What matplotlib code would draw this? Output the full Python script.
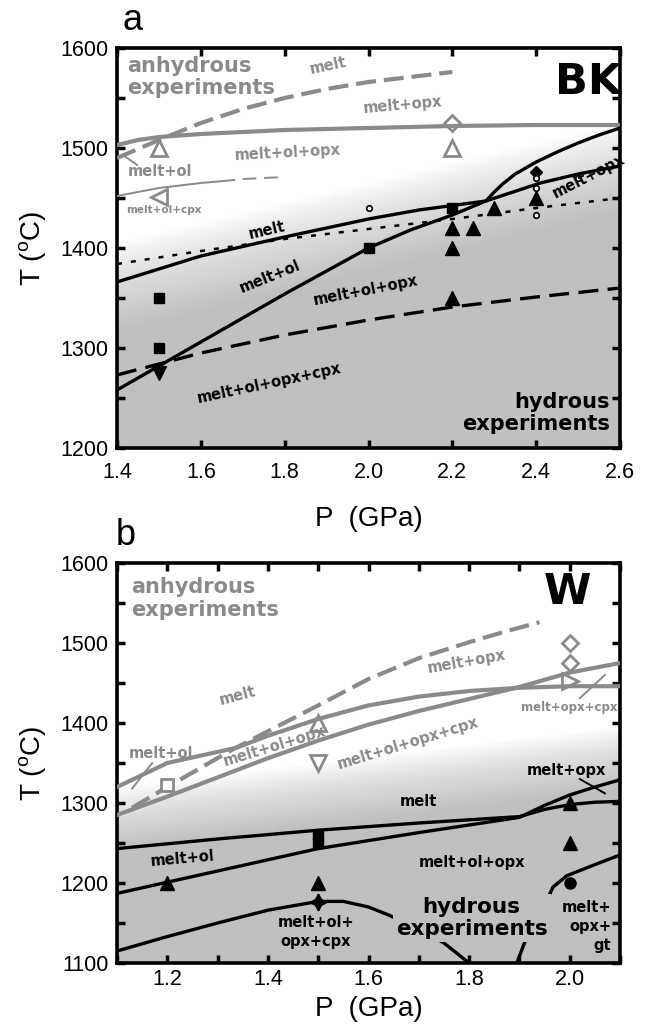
import numpy as np
import matplotlib.pyplot as plt
from matplotlib.ticker import MultipleLocator

plt.rcParams['font.family'] = ['Liberation Sans', 'DejaVu Sans']
plt.rcParams['mathtext.fontset'] = 'custom'
plt.rcParams['mathtext.rm'] = 'Liberation Sans'

GRAY = '#8a8a8a'
BOLD = ['DejaVu Sans']

# ---------------- panel a (BK) ----------------
# anhydrous (gray)
a_melt_anh_P = [1.40, 1.50, 1.60, 1.70, 1.80, 1.90, 2.00, 2.10, 2.20]
a_melt_anh_T = [1490, 1508, 1525, 1539, 1550, 1559, 1566, 1571, 1576]
a_opx_anh_P = [1.40, 1.45, 1.50, 1.60, 1.80, 2.00, 2.20, 2.40, 2.60]
a_opx_anh_T = [1503, 1508, 1511, 1514, 1518, 1520, 1522, 1523, 1523]
a_cpx_anh_P = [1.40, 1.50, 1.60, 1.68]
a_cpx_anh_T = [1452, 1460, 1465, 1468]
a_cpx_anh_dash_P = [1.70, 1.80]
a_cpx_anh_dash_T = [1469, 1471]
a_lead_P = [1.414, 1.448]
a_lead_T = [1493, 1483]
# hydrous (black)
a_liq_P = [1.40, 1.60, 1.80, 2.00, 2.12, 2.28, 2.41, 2.50, 2.60]
a_liq_T = [1366, 1392, 1411, 1429, 1438, 1447, 1465, 1474, 1482]
a_ol_P = [1.40, 1.60, 1.80, 2.00, 2.10, 2.20, 2.28, 2.30, 2.32, 2.35, 2.40, 2.45, 2.50, 2.55, 2.60]
a_ol_T = [1258, 1306, 1354, 1400, 1418, 1433, 1447, 1456, 1464, 1474, 1486, 1496, 1505, 1513, 1520]
a_dot_P = [1.4, 1.6, 1.8, 2.0, 2.2, 2.4, 2.6]
a_dot_T = [1384, 1397, 1409, 1419, 1429, 1440, 1450]
a_dash_P = [1.4, 1.6, 1.8, 2.0, 2.2, 2.4, 2.6]
a_dash_T = [1273, 1295, 1313, 1328, 1341, 1351, 1360]
# experiments
a_sq_P = [1.5, 1.5, 2.0, 2.2]
a_sq_T = [1350, 1300, 1400, 1440]
a_tri_P = [2.2, 2.2, 2.25, 2.3, 2.4, 2.2]
a_tri_T = [1420, 1400, 1420, 1440, 1450, 1350]
a_tdown_P = [1.5]
a_tdown_T = [1275]
a_dia_P = [2.4]
a_dia_T = [1476]
a_circ_P = [2.0, 2.4, 2.4, 2.4, 2.5]
a_circ_T = [1440, 1470, 1460, 1433, 1470]
a_otri_P = [1.5, 2.2]
a_otri_T = [1500, 1500]
a_odia_P = [2.2]
a_odia_T = [1525]
a_oleft_P = [1.5]
a_oleft_T = [1451]

# ---------------- panel b (W) ----------------
b_melt_anh_P = [1.13, 1.20, 1.33, 1.50, 1.60, 1.70, 1.80, 1.87, 1.94]
b_melt_anh_T = [1294, 1320, 1367, 1422, 1455, 1481, 1501, 1514, 1526]
b_up_anh_P = [1.10, 1.20, 1.337, 1.40, 1.50, 1.60, 1.70, 1.80, 1.90, 2.00, 2.10]
b_up_anh_T = [1320, 1350, 1369, 1384, 1405, 1422, 1433, 1440, 1444, 1446, 1446]
b_lo_anh_P = [1.10, 1.20, 1.30, 1.40, 1.50, 1.60, 1.70, 1.80, 1.90, 2.00, 2.10]
b_lo_anh_T = [1285, 1308, 1332, 1356, 1378, 1398, 1415, 1430, 1445, 1463, 1475]
b_lead1_P = [1.13, 1.17]
b_lead1_T = [1318, 1350]
b_lead2_P = [2.02, 2.07]
b_lead2_T = [1431, 1460]
b_liq_P = [1.10, 1.30, 1.50, 1.70, 1.90, 1.95, 2.00, 2.05, 2.10]
b_liq_T = [1243, 1255, 1266, 1275, 1283, 1292, 1298, 1301, 1302]
b_ol_P = [1.10, 1.30, 1.50, 1.70, 1.90, 1.95, 2.00, 2.05, 2.10]
b_ol_T = [1187, 1215, 1243, 1263, 1282, 1297, 1310, 1320, 1329]
b_cpx_P = [1.10, 1.20, 1.30, 1.40, 1.50, 1.55, 1.60, 1.64, 1.70, 1.75, 1.80]
b_cpx_T = [1115, 1133, 1150, 1166, 1177, 1177, 1170, 1160, 1143, 1125, 1100]
b_gt_P = [1.895, 1.91, 1.937, 1.967, 1.994, 2.046, 2.10]
b_gt_T = [1100, 1125, 1156, 1195, 1209, 1222, 1235]
b_lead3_P = [2.02, 2.07]
b_lead3_T = [1330, 1312]
# experiments
b_sq_P = [1.5, 1.5]
b_sq_T = [1250, 1260]
b_tri_P = [1.2, 1.5, 2.0, 2.0]
b_tri_T = [1200, 1200, 1250, 1300]
b_star_P = [1.5]
b_star_T = [1176]
b_circ_P = [2.0]
b_circ_T = [1200]
b_osq_P = [1.2]
b_osq_T = [1322]
b_otri_P = [1.5]
b_otri_T = [1400]
b_otdown_P = [1.5]
b_otdown_T = [1350]
b_odia_P = [2.0, 2.0]
b_odia_T = [1500, 1475]
b_oright_P = [2.0]
b_oright_T = [1452]


def shade(ax, xlim, ylim, t_left, t_right, width):
    P = np.linspace(xlim[0], xlim[1], 300)
    T = np.linspace(ylim[0], ylim[1], 300)
    PP, TT = np.meshgrid(P, T)
    tb = t_left + (t_right - t_left) * (PP - xlim[0]) / (xlim[1] - xlim[0])
    f = np.clip((tb - TT) / width, 0, 1)
    g = 1 - 0.25 * f ** 0.75
    ax.imshow(g, extent=[xlim[0], xlim[1], ylim[0], ylim[1]], origin='lower',
              cmap='gray', vmin=0, vmax=1, aspect='auto', zorder=0,
              interpolation='bilinear')


def frame(ax, xlim, ylim, xmaj, xmin, xpad, xlabelpad):
    ax.set_xlim(xlim)
    ax.set_ylim(ylim)
    ax.xaxis.set_major_locator(MultipleLocator(xmaj))
    ax.xaxis.set_minor_locator(MultipleLocator(xmin))
    ax.yaxis.set_major_locator(MultipleLocator(100))
    ax.yaxis.set_minor_locator(MultipleLocator(50))
    ax.xaxis.set_major_formatter(plt.FormatStrFormatter('%.1f'))
    ax.tick_params(which='both', direction='in', top=True, right=True,
                   length=6, width=2.5, labelsize=15.5, pad=6)
    ax.tick_params(axis='x', which='both', pad=xpad)
    for s in ax.spines.values():
        s.set_linewidth(2.6)
    ax.set_xlabel('P  (GPa)', fontsize=20, labelpad=xlabelpad)
    ax.set_ylabel('T ($^{\\mathrm{o}}$C)', fontsize=20, labelpad=8)


def lbl(ax, x, y, s, color='k', size=10.5, rot=0, **kw):
    ax.text(x, y, s, color=color, fontsize=size, rotation=rot, family=BOLD,
            fontweight='bold', ha=kw.pop('ha', 'center'), va=kw.pop('va', 'center'),
            rotation_mode='anchor', zorder=6, **kw)


fig = plt.figure(figsize=(6.49, 10.32), dpi=100)
ax1 = fig.add_axes([117 / 649, 1 - 448 / 1032, 503 / 649, 400 / 1032])
ax2 = fig.add_axes([117 / 649, 1 - 963 / 1032, 503 / 649, 400 / 1032])

# ---- panel a ----
xa, ya = (1.4, 2.6), (1200, 1600)
shade(ax1, xa, ya, 1405, 1525, 90)
ax1.plot(a_melt_anh_P, a_melt_anh_T, color=GRAY, lw=3, dashes=(4.8, 1.9), zorder=3)
ax1.plot(a_opx_anh_P, a_opx_anh_T, color=GRAY, lw=3, zorder=3)
ax1.plot(a_cpx_anh_P, a_cpx_anh_T, color=GRAY, lw=1.4, zorder=3)
ax1.plot(a_cpx_anh_dash_P, a_cpx_anh_dash_T, color=GRAY, lw=1.4, dashes=(7, 4), zorder=3)
ax1.plot(a_lead_P, a_lead_T, color=GRAY, lw=1.4, zorder=3)
ax1.plot(a_liq_P, a_liq_T, color='k', lw=2.4, zorder=4)
ax1.plot(a_ol_P, a_ol_T, color='k', lw=2.4, zorder=4)
ax1.plot(a_dot_P, a_dot_T, color='k', lw=1.8, dashes=(2, 3.6), zorder=4)
ax1.plot(a_dash_P, a_dash_T, color='k', lw=2.4, dashes=(6, 2.8), zorder=4)

ax1.plot(a_sq_P, a_sq_T, 's', color='k', ms=7.5, zorder=5)
ax1.plot(a_tri_P, a_tri_T, '^', color='k', ms=10, zorder=5)
ax1.plot(a_tdown_P, a_tdown_T, 'v', color='k', ms=10, zorder=5)
ax1.plot(a_dia_P, a_dia_T, 'D', color='k', ms=6, zorder=5)
ax1.plot(a_circ_P, a_circ_T, 'o', mfc='white', mec='k', ms=4, mew=1.2, zorder=5)
ax1.plot(a_otri_P, a_otri_T, '^', mfc='none', mec=GRAY, ms=11, mew=2, zorder=5)
ax1.plot(a_odia_P, a_odia_T, 'D', mfc='none', mec=GRAY, ms=8, mew=2, zorder=5)
ax1.plot(a_oleft_P, a_oleft_T, '<', mfc='none', mec=GRAY, ms=11, mew=2, zorder=5)

ax1.text(1.424, 1592, 'anhydrous\nexperiments', color=GRAY, fontsize=15, family=BOLD,
         fontweight='bold', ha='left', va='top', linespacing=1.15, zorder=6)
lbl(ax1, 1.903, 1582, 'melt', GRAY, rot=12)
lbl(ax1, 2.082, 1543, 'melt+opx', GRAY, rot=5)
lbl(ax1, 1.808, 1495, 'melt+ol+opx', GRAY, rot=3)
lbl(ax1, 1.503, 1476, 'melt+ol', GRAY)
lbl(ax1, 1.512, 1438, 'melt+ol+cpx', GRAY, size=7.5)
ax1.text(2.525, 1566, 'BK', fontsize=31, family=BOLD, fontweight='heavy',
         ha='center', va='center', zorder=6)
lbl(ax1, 1.758, 1418, 'melt', rot=13)
lbl(ax1, 1.765, 1371, 'melt+ol', rot=22)
lbl(ax1, 1.994, 1358, 'melt+ol+opx', rot=11)
lbl(ax1, 2.526, 1472, 'melt+opx', rot=27)
lbl(ax1, 1.763, 1265, 'melt+ol+opx+cpx', rot=12)
ax1.text(2.575, 1214, 'hydrous\nexperiments', fontsize=15, family=BOLD,
         fontweight='bold', ha='right', va='bottom', linespacing=1.1, zorder=6,
         multialignment='right')
frame(ax1, xa, ya, 0.2, 0.2, xpad=10, xlabelpad=17)

# ---- panel b ----
xb, yb = (1.1, 2.1), (1100, 1600)
shade(ax2, xb, yb, 1320, 1395, 80)
ax2.plot(b_melt_anh_P, b_melt_anh_T, color=GRAY, lw=3, dashes=(4.8, 1.9), zorder=3)
ax2.plot(b_up_anh_P, b_up_anh_T, color=GRAY, lw=3, zorder=3)
ax2.plot(b_lo_anh_P, b_lo_anh_T, color=GRAY, lw=3, zorder=3)
ax2.plot(b_lead1_P, b_lead1_T, color=GRAY, lw=1.4, zorder=3)
ax2.plot(b_lead2_P, b_lead2_T, color=GRAY, lw=1.4, zorder=3)
ax2.plot(b_liq_P, b_liq_T, color='k', lw=2.4, zorder=4)
ax2.plot(b_ol_P, b_ol_T, color='k', lw=2.4, zorder=4)
ax2.plot(b_cpx_P, b_cpx_T, color='k', lw=2.4, zorder=4)
ax2.plot(b_gt_P, b_gt_T, color='k', lw=2.4, zorder=4)
ax2.plot(b_lead3_P, b_lead3_T, color='k', lw=1.4, zorder=4)

ax2.plot(b_sq_P, b_sq_T, 's', color='k', ms=7.5, zorder=5)
ax2.plot(b_tri_P, b_tri_T, '^', color='k', ms=10, zorder=5)
ax2.plot(b_star_P, b_star_T, marker=(4, 1, 0), color='k', ms=12, ls='none', zorder=5)
ax2.plot(b_star_P, b_star_T, '|', color='k', ms=12, mew=2, zorder=5)
ax2.plot(b_circ_P, b_circ_T, 'o', color='k', ms=8, zorder=5)
ax2.plot(b_osq_P, b_osq_T, 's', mfc='white', mec=GRAY, ms=8, mew=2, zorder=5)
ax2.plot(b_otri_P, b_otri_T, '^', mfc='none', mec=GRAY, ms=11, mew=2, zorder=5)
ax2.plot(b_otdown_P, b_otdown_T, 'v', mfc='none', mec=GRAY, ms=11, mew=2, zorder=5)
ax2.plot(b_odia_P, b_odia_T, 'D', mfc='none', mec=GRAY, ms=8, mew=2, zorder=5)
ax2.plot(b_oright_P, b_oright_T, '>', mfc='none', mec=GRAY, ms=11, mew=2, zorder=5)

ax2.text(1.128, 1582, 'anhydrous\nexperiments', color=GRAY, fontsize=15, family=BOLD,
         fontweight='bold', ha='left', va='top', linespacing=1.15, zorder=6)
ax2.text(1.996, 1564, 'W', fontsize=31, family=BOLD, fontweight='heavy',
         ha='center', va='center', zorder=6)
lbl(ax2, 1.339, 1434, 'melt', GRAY, rot=15)
lbl(ax2, 1.795, 1477, 'melt+opx', GRAY, rot=10)
lbl(ax2, 1.188, 1362, 'melt+ol', GRAY)
lbl(ax2, 1.413, 1371, 'melt+ol+opx', GRAY, rot=17)
lbl(ax2, 1.678, 1375, 'melt+ol+opx+cpx', GRAY, rot=17)
lbl(ax2, 2.0, 1420, 'melt+opx+cpx', GRAY, size=8.5)
lbl(ax2, 1.993, 1341, 'melt+opx')
lbl(ax2, 1.70, 1302, 'melt')
lbl(ax2, 1.23, 1230, 'melt+ol', rot=5)
lbl(ax2, 1.805, 1226, 'melt+ol+opx')
ax2.text(1.495, 1139, 'melt+ol+\nopx+cpx', fontsize=10.5, family=BOLD,
         fontweight='bold', ha='center', va='center', linespacing=1.3, zorder=6)
ax2.text(1.805, 1156, 'hydrous\nexperiments', fontsize=15.5, family=BOLD,
         fontweight='bold', ha='center', va='center', linespacing=1.1, zorder=6,
         bbox=dict(boxstyle='square,pad=0.15', fc='#bfbfbf', ec='none'))
ax2.text(2.083, 1146, 'melt+\nopx+\ngt', fontsize=10.5, family=BOLD,
         fontweight='bold', ha='right', va='center', linespacing=1.35, zorder=6,
         multialignment='right')
frame(ax2, xb, yb, 0.2, 0.1, xpad=4, xlabelpad=5)

fig.text(122 / 649, 1 - 30 / 1032, 'a', fontsize=26, ha='left', va='baseline')
fig.text(116 / 649, 1 - 545 / 1032, 'b', fontsize=26, ha='left', va='baseline')

fig.savefig('out.png', dpi=100)
